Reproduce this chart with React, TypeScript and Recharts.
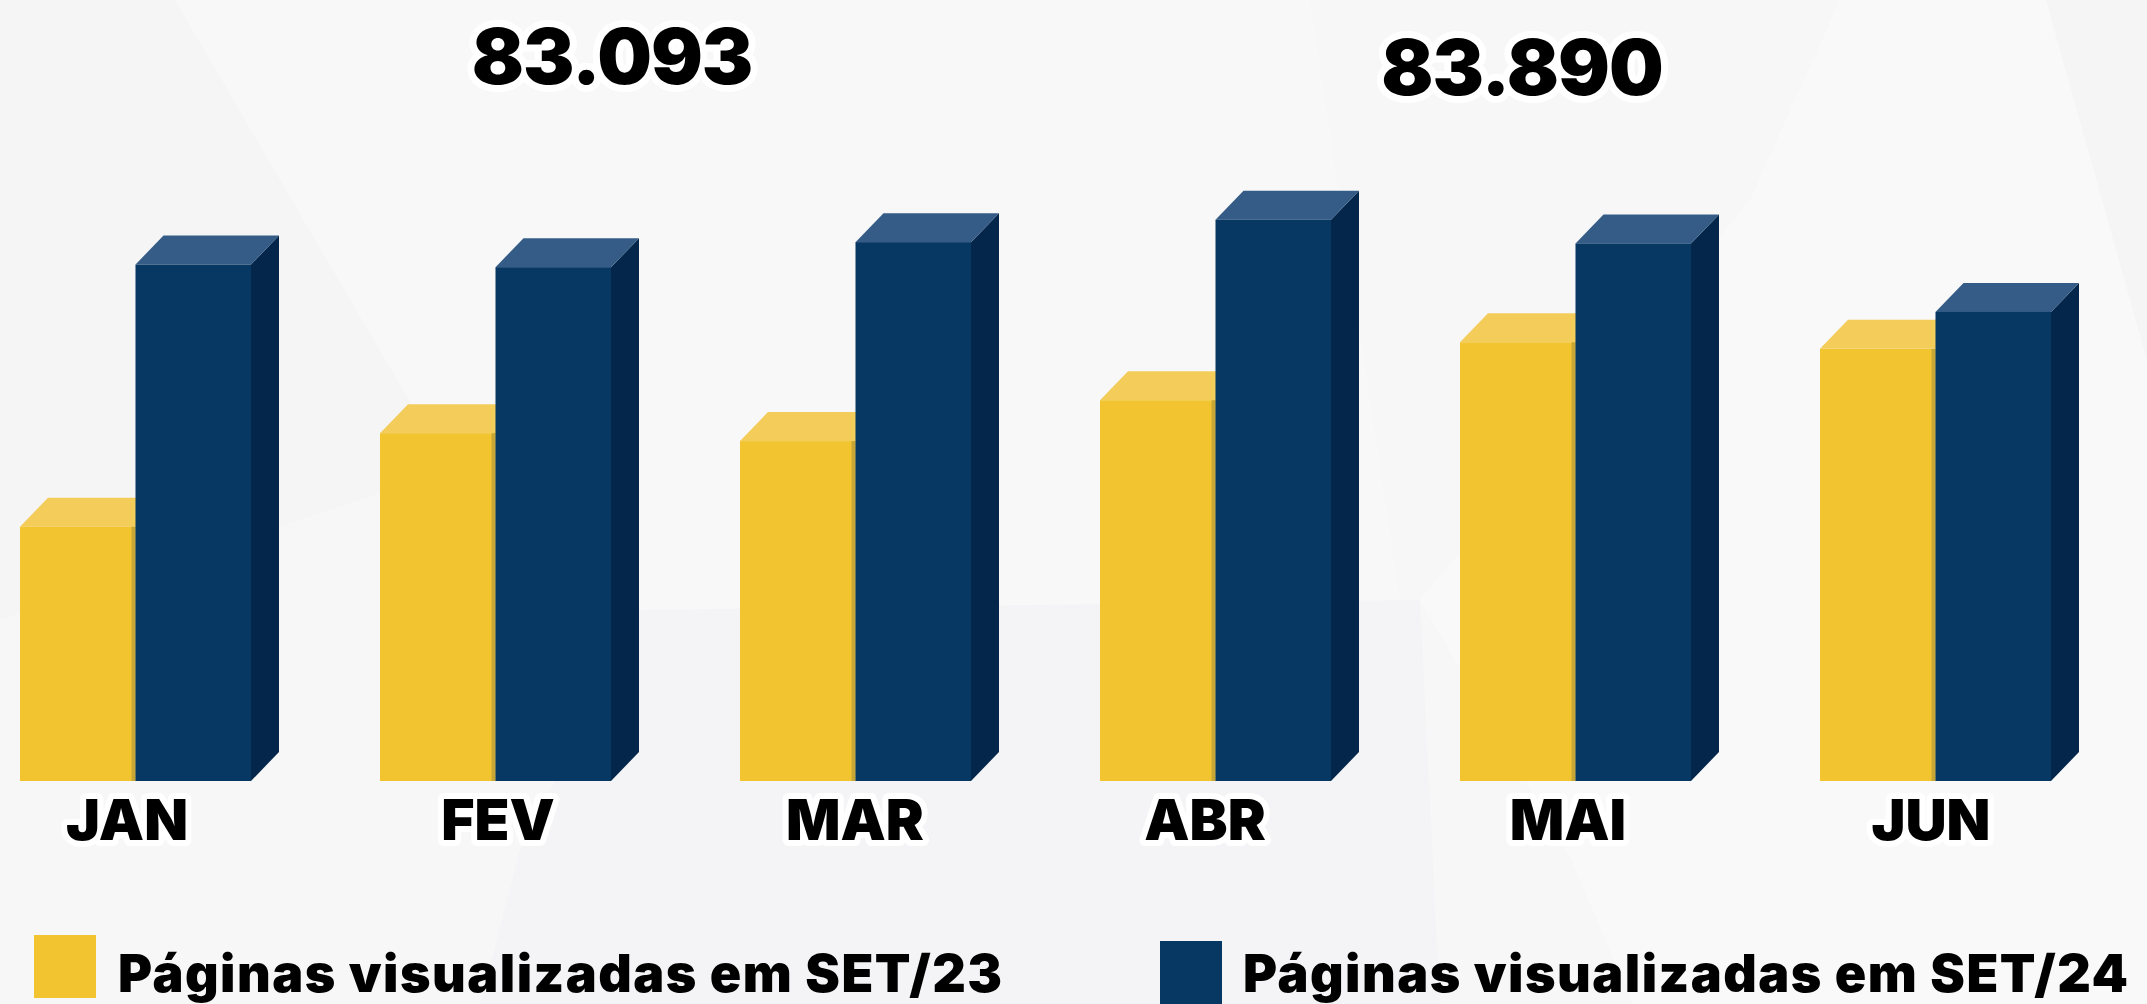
import { BarChart, Bar, XAxis, YAxis, Legend } from 'recharts';

const months = ['JAN', 'FEV', 'MAR', 'ABR', 'MAI', 'JUN'];
const set23 = [9650, 13200, 12900, 14450, 16650, 16400];
const set24 = [19600, 19500, 20450, 21300, 20400, 17800];
const totals = ['83.093', '83.890'];
const legendNames = ['Páginas visualizadas em SET/23', 'Páginas visualizadas em SET/24'];

const FONT = 'Inter, "Open Sans", sans-serif';
const DEPTH_X = 28;
const DEPTH_Y = 29;
// os rótulos não ficam exatamente centrados no grupo de barras
const tickNudge = [-8, 3, 0, -10, -7, -4];

const chartData = months.map((month, i) => ({ month, set23: set23[i], set24: set24[i] }));

// barra com falsa perspectiva: frente, topo e lateral
function Bar3D({ x, y, width, height, front, top, side, edge }: any) {
  const topPts = `${x},${y} ${x + DEPTH_X},${y - DEPTH_Y} ${x + width + DEPTH_X},${y - DEPTH_Y} ${x + width},${y}`;
  const sidePts = `${x + width},${y} ${x + width + DEPTH_X},${y - DEPTH_Y} ${x + width + DEPTH_X},${y + height - DEPTH_Y} ${x + width},${y + height}`;
  return (
    <g>
      <polygon points={sidePts} fill={side} />
      <polygon points={topPts} fill={top} />
      <rect x={x} y={y} width={width} height={height} fill={front} />
      {edge && <rect x={x + width - 4} y={y} width={4} height={height} fill={edge} />}
    </g>
  );
}

function MonthTick({ x, y, index, payload }: any) {
  return (
    <text
      x={x + tickNudge[index]}
      y={y + 53}
      textAnchor="middle"
      fontFamily={FONT}
      fontWeight={900}
      fontSize={57}
      fill="#000"
      stroke="#fff"
      strokeWidth={12}
      strokeLinejoin="round"
      paintOrder="stroke"
    >
      {payload.value}
    </text>
  );
}

const legendSpots = [
  { box: { left: 79, top: 935 }, text: { left: 163, top: 993 } },
  { box: { left: 1205, top: 941 }, text: { left: 1288, top: 993 } },
];

function LegendBlocks({ payload }: any) {
  return (
    <div>
      {(payload || []).map((entry: any, i: number) => (
        <div key={entry.value}>
          <div
            style={{
              position: 'absolute',
              left: legendSpots[i].box.left,
              top: legendSpots[i].box.top,
              width: 62,
              height: 63,
              background: entry.color,
            }}
          />
          <div
            style={{
              position: 'absolute',
              left: legendSpots[i].text.left,
              top: legendSpots[i].text.top - 49,
              fontFamily: FONT,
              fontWeight: 900,
              fontSize: 52,
              letterSpacing: 1.5,
              lineHeight: '60px',
              whiteSpace: 'nowrap',
              color: '#000',
            }}
          >
            {entry.value}
          </div>
        </div>
      ))}
    </div>
  );
}

function Title({ left, top, children }: any) {
  return (
    <div
      style={{
        position: 'absolute',
        left,
        top,
        width: 400,
        textAlign: 'center',
        fontFamily: FONT,
        fontWeight: 900,
        fontSize: 77,
        letterSpacing: -1,
        lineHeight: '90px',
        color: '#000',
        WebkitTextStroke: '14px #fff',
        paintOrder: 'stroke fill',
      }}
    >
      {children}
    </div>
  );
}

export default function App() {
  return (
    <div
      style={{
        position: 'fixed',
        inset: 0,
        width: 2147,
        height: 1004,
        overflow: 'hidden',
        background: '#f7f7f8',
      }}
    >
      <svg width={2147} height={1004} style={{ position: 'absolute', left: 0, top: 0 }}>
        <polygon points="0,0 175,0 450,470 0,620" fill="#f5f5f6" />
        <polygon points="175,0 1310,0 1400,600 640,610 450,470" fill="#f8f8f9" />
        <polygon points="640,610 1420,600 1440,1004 480,1004 520,850" fill="#f4f4f6" />
        <polygon points="1840,0 2046,0 2147,360 2147,1004 1633,1004 1570,857 1420,600 1750,200" fill="#f9f9fa" />
        <polygon points="2046,0 2147,0 2147,360" fill="#f5f5f6" />
      </svg>
      <div style={{ position: 'absolute', left: -45, top: 0 }}>
        <BarChart
          width={2200}
          height={1004}
          data={chartData}
          barSize={115.5}
          barGap={0}
          margin={{ top: 20, right: 40, bottom: 0, left: 0 }}
        >
          <XAxis
            dataKey="month"
            axisLine={false}
            tickLine={false}
            tickMargin={0}
            height={223}
            tick={<MonthTick />}
          />
          <YAxis hide domain={[0, 28880]} />
          <Legend content={<LegendBlocks />} wrapperStyle={{ left: 0, top: 0, bottom: 'auto', width: 2200, height: 0 }} />
          <Bar
            dataKey="set23"
            name={legendNames[0]}
            fill="#f2c430"
            isAnimationActive={false}
            shape={(p: any) => <Bar3D {...p} front="#f2c430" top="#f3cc5a" side="#c9a22c" edge="#c7a636" />}
          />
          <Bar
            dataKey="set24"
            name={legendNames[1]}
            fill="#073763"
            isAnimationActive={false}
            shape={(p: any) => <Bar3D {...p} front="#073763" top="#345c86" side="#04264a" />}
          />
        </BarChart>
      </div>
      <Title left={412} top={11}>{totals[0]}</Title>
      <Title left={1322} top={22}>{totals[1]}</Title>
    </div>
  );
}
